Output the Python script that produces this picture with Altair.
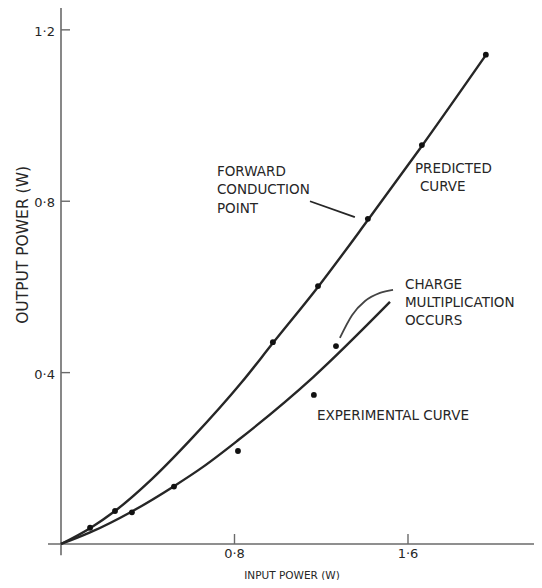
import altair as alt
import pandas as pd

# ---- data ----
pred_curve_x = [0, 0.134, 0.249, 0.420, 0.604, 0.834, 0.977, 1.185, 1.415, 1.664, 1.959]
pred_curve_y = [0, 0.037, 0.077, 0.152, 0.247, 0.378, 0.469, 0.600, 0.756, 0.929, 1.141]
pred_pts_x = [0.134, 0.249, 0.977, 1.185, 1.415, 1.664, 1.959]
pred_pts_y = [0.038, 0.077, 0.471, 0.602, 0.759, 0.931, 1.142]

exp_curve_x = [0, 0.134, 0.327, 0.521, 0.655, 0.816, 1.162, 1.517]
exp_curve_y = [0, 0.027, 0.076, 0.135, 0.180, 0.242, 0.389, 0.565]
exp_pts_x = [0.327, 0.521, 0.816, 1.166, 1.268]
exp_pts_y = [0.074, 0.134, 0.217, 0.348, 0.462]

x_ticks = [0.8, 1.6]
x_tick_labels = ["0·8", "1·6"]
y_ticks = [0.4, 0.8, 1.2]
y_tick_labels = ["0·4", "0·8", "1·2"]

x_title = "INPUT POWER (W)"
y_title = "OUTPUT POWER (W)"

ann_text = ["FORWARD", "CONDUCTION", "POINT", "PREDICTED", "CURVE",
            "CHARGE", "MULTIPLICATION", "OCCURS", "EXPERIMENTAL CURVE"]
ann_x = [0.719, 0.719, 0.719, 1.632, 1.655, 1.586, 1.586, 1.586, 1.180]
ann_y = [0.868, 0.826, 0.782, 0.875, 0.833, 0.604, 0.562, 0.520, 0.299]

fwd_leader_x = [1.148, 1.355]
fwd_leader_y = [0.800, 0.763]
chg_leader_x = [1.286, 1.342, 1.402, 1.471, 1.531]
chg_leader_y = [0.481, 0.534, 0.567, 0.586, 0.593]

X_MAX = 2.181
Y_MAX = 1.251
INK = "#262626"
AXIS = "#6a6a6a"
FONT = "DejaVu Sans"

xs = alt.Scale(domain=[0, X_MAX], nice=False, zero=False)
ys = alt.Scale(domain=[0, Y_MAX], nice=False, zero=False)


def X(f="x"):
    return alt.X(f"{f}:Q", scale=xs, axis=None)


def Y(f="y"):
    return alt.Y(f"{f}:Q", scale=ys, axis=None)


axes_df = pd.DataFrame({"x": [-0.06, 0], "x2": [X_MAX, 0],
                        "y": [0, -0.026], "y2": [0, Y_MAX]})
axis_lines = alt.Chart(axes_df).mark_rule(color=AXIS, strokeWidth=1.6).encode(
    x=X(), x2="x2:Q", y=Y(), y2="y2:Q")

ytick_df = pd.DataFrame({"y": y_ticks, "x": [0] * 3, "x2": [0.0415] * 3, "lab": y_tick_labels})
xtick_df = pd.DataFrame({"x": x_ticks, "y": [0] * 2, "y2": [0.0233] * 2, "lab": x_tick_labels})

yticks = alt.Chart(ytick_df).mark_rule(color=AXIS, strokeWidth=1.4).encode(
    x=X(), x2="x2:Q", y=Y())
xticks = alt.Chart(xtick_df).mark_rule(color=AXIS, strokeWidth=1.4).encode(
    x=X(), y=Y(), y2="y2:Q")

ylabels = alt.Chart(ytick_df).mark_text(
    align="right", baseline="middle", dx=-6, dy=2, font=FONT, fontSize=13, color=INK
).encode(x=X(), y=Y(), text="lab:N")
xlabels = alt.Chart(xtick_df).mark_text(
    align="center", baseline="middle", dy=10, font=FONT, fontSize=13, color=INK
).encode(x=X(), y=Y(), text="lab:N")

titles_df = pd.DataFrame({"x": [1.065], "y": [-0.075], "t": [x_title]})
xtitle = alt.Chart(titles_df).mark_text(
    align="center", baseline="middle", font=FONT, fontSize=10.5, color=INK
).encode(x=X(), y=Y(), text="t:N")
ytitle_df = pd.DataFrame({"x": [-0.175], "y": [0.698], "t": [y_title]})
ytitle = alt.Chart(ytitle_df).mark_text(
    align="center", baseline="middle", angle=270, font=FONT, fontSize=15.5, color=INK
).encode(x=X(), y=Y(), text="t:N")

pred_df = pd.DataFrame({"x": pred_curve_x, "y": pred_curve_y})
exp_df = pd.DataFrame({"x": exp_curve_x, "y": exp_curve_y})
pred_line = alt.Chart(pred_df).mark_line(color=INK, strokeWidth=2.4, interpolate="monotone").encode(
    x=X(), y=Y())
exp_line = alt.Chart(exp_df).mark_line(color=INK, strokeWidth=2.4, interpolate="monotone").encode(
    x=X(), y=Y())

pts_df = pd.DataFrame({"x": pred_pts_x + exp_pts_x, "y": pred_pts_y + exp_pts_y})
points = alt.Chart(pts_df).mark_circle(color="#111111", opacity=1, size=34).encode(x=X(), y=Y())

fwd_df = pd.DataFrame({"x": fwd_leader_x, "y": fwd_leader_y})
fwd_leader = alt.Chart(fwd_df).mark_line(color=INK, strokeWidth=1.8).encode(x=X(), y=Y())
chg_df = pd.DataFrame({"x": chg_leader_x, "y": chg_leader_y})
chg_leader = alt.Chart(chg_df).mark_line(color="#444444", strokeWidth=1.8, interpolate="monotone").encode(
    x=X(), y=Y())

ann_df = pd.DataFrame({"x": ann_x, "y": ann_y, "t": ann_text})
annotations = alt.Chart(ann_df).mark_text(
    align="left", baseline="middle", font=FONT, fontSize=13.5, color=INK
).encode(x=X(), y=Y(), text="t:N")

chart = alt.layer(
    axis_lines, yticks, xticks, ylabels, xlabels, xtitle, ytitle,
    pred_line, exp_line, points, fwd_leader, chg_leader, annotations
).properties(
    width=473, height=536,
    autosize=alt.AutoSizeParams(type="none"),
    padding={"left": 53, "top": 0, "right": 0, "bottom": 36},
    background="white",
).configure_view(stroke=None)

chart.save("out.html", embed_options={"renderer": "svg", "actions": False})
